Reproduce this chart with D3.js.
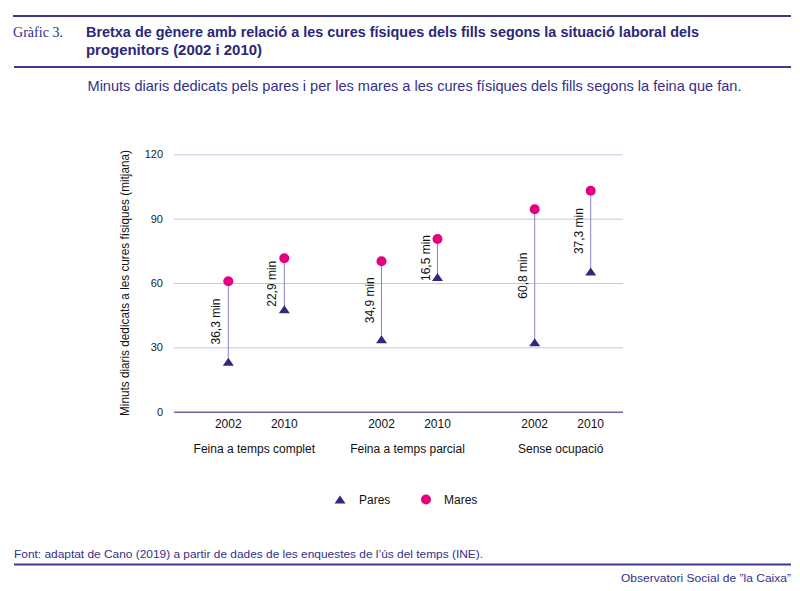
<!DOCTYPE html>
<html><head><meta charset="utf-8">
<script src="https://cdn.jsdelivr.net/npm/d3@7"></script>
<style>body{margin:0;background:#fff}svg{display:block}</style>
</head><body>
<svg id="c" width="800" height="591"></svg>
<script>
const categories = ["Feina a temps complet", "Feina a temps parcial", "Sense ocupació"];
const years = ["2002", "2010"];
const pares = [23.3, 47.8, 33.8, 62.8, 32.4, 65.4];
const mares = [60.8, 71.5, 70.1, 80.5, 94.4, 103.0];
const gapLabels = ["36,3 min", "22,9 min", "34,9 min", "16,5 min", "60,8 min", "37,3 min"];
const yTicks = [0, 30, 60, 90, 120];
const seriesNames = ["Pares", "Mares"];

const svg = d3.select("#c");
const purple = "#2e2b7c", magenta = "#e5007d", txtPurple = "#353089";
const font = "'Liberation Sans', Arial, sans-serif";

// header
svg.append("line").attr("x1", 13).attr("x2", 791).attr("y1", 16).attr("y2", 16).attr("stroke", "#3d3890").attr("stroke-width", 2);
svg.append("line").attr("x1", 14).attr("x2", 791).attr("y1", 67).attr("y2", 67).attr("stroke", "#3d3890").attr("stroke-width", 2);
svg.append("text").attr("x", 13).attr("y", 37).attr("font-family", "'Liberation Serif','DejaVu Serif',serif").attr("font-size", 15).attr("fill", txtPurple)
  .attr("textLength", 50).attr("lengthAdjust", "spacingAndGlyphs").text("Gràfic 3.");
svg.append("text").attr("x", 86).attr("y", 37.3).attr("font-family", font).attr("font-weight", "bold").attr("font-size", 15).attr("fill", "#2b2878")
  .attr("textLength", 613).attr("lengthAdjust", "spacingAndGlyphs").text("Bretxa de gènere amb relació a les cures físiques dels fills segons la situació laboral dels");
svg.append("text").attr("x", 86).attr("y", 55).attr("font-family", font).attr("font-weight", "bold").attr("font-size", 15).attr("fill", "#2b2878")
  .attr("textLength", 176).attr("lengthAdjust", "spacingAndGlyphs").text("progenitors (2002 i 2010)");
svg.append("text").attr("x", 87.5).attr("y", 90.5).attr("font-family", font).attr("font-size", 15).attr("fill", txtPurple)
  .attr("textLength", 654).attr("lengthAdjust", "spacingAndGlyphs").text("Minuts diaris dedicats pels pares i per les mares a les cures físiques dels fills segons la feina que fan.");

// scales
const plotLeft = 174, plotRight = 623;
const y = d3.scaleLinear().domain([0, 120]).range([411.7, 154.3]);
const xCat = d3.scaleBand().domain(categories).range([179.7, 639.3]).padding(0);
const xYear = d3.scalePoint().domain(years).range([-28, 28]);
const xPos = i => xCat(categories[Math.floor(i / 2)]) + xCat.bandwidth() / 2 + xYear(years[i % 2]);

// y axis with gridlines
const yAxis = d3.axisLeft(y).tickValues(yTicks).tickSize(-(plotRight - plotLeft)).tickPadding(11);
const gy = svg.append("g").attr("transform", `translate(${plotLeft},0)`).call(yAxis);
gy.select(".domain").remove();
gy.selectAll(".tick line").attr("stroke", d => d === 0 ? "#6f66b0" : "#c9c5e1").attr("stroke-width", d => d === 0 ? 1.5 : 1);
gy.selectAll(".tick text").attr("font-family", font).attr("font-size", 11).attr("fill", "#222");

svg.append("text").attr("transform", `translate(129,283) rotate(-90)`).attr("text-anchor", "middle")
  .attr("font-family", font).attr("font-size", 12).attr("fill", "#111")
  .attr("textLength", 266).attr("lengthAdjust", "spacingAndGlyphs")
  .text("Minuts diaris dedicats a les cures físiques (mitjana)");

// x labels
const idx = d3.range(pares.length);
svg.selectAll(".yr").data(idx).join("text").attr("x", i => xPos(i)).attr("y", 427.7).attr("text-anchor", "middle")
  .attr("font-family", font).attr("font-size", 12).attr("fill", "#111").text(i => years[i % 2]);
svg.selectAll(".cat").data(categories).join("text").attr("x", d => xCat(d) + xCat.bandwidth() / 2 - 2).attr("y", 452.7)
  .attr("text-anchor", "middle").attr("font-family", font).attr("font-size", 12).attr("fill", "#111").text(d => d);

// stems
svg.selectAll(".stem").data(idx).join("line").attr("x1", i => xPos(i)).attr("x2", i => xPos(i))
  .attr("y1", i => y(mares[i])).attr("y2", i => y(pares[i])).attr("stroke", "#8b84c2").attr("stroke-width", 1);

const tri = "M0,-4L5.5,4L-5.5,4Z";
svg.selectAll(".pare").data(idx).join("path").attr("d", tri)
  .attr("transform", i => `translate(${xPos(i)},${y(pares[i])})`).attr("fill", purple);
svg.selectAll(".mare").data(idx).join("circle").attr("cx", i => xPos(i)).attr("cy", i => y(mares[i])).attr("r", 5).attr("fill", magenta);

// gap labels
svg.selectAll(".gap").data(idx).join("text")
  .attr("transform", i => `translate(${xPos(i) - 8},${(y(mares[i]) + y(pares[i])) / 2}) rotate(-90)`)
  .attr("text-anchor", "middle").attr("font-family", font).attr("font-size", 12).attr("fill", "#111").text(i => gapLabels[i]);

// legend
svg.append("path").attr("d", tri).attr("transform", "translate(340,499.5)").attr("fill", purple);
svg.append("text").attr("x", 359).attr("y", 503.5).attr("font-family", font).attr("font-size", 12).attr("fill", "#111").text(seriesNames[0]);
svg.append("circle").attr("cx", 426).attr("cy", 499.5).attr("r", 5).attr("fill", magenta);
svg.append("text").attr("x", 444).attr("y", 503.5).attr("font-family", font).attr("font-size", 12).attr("fill", "#111").text(seriesNames[1]);

// footer
svg.append("text").attr("x", 14).attr("y", 558).attr("font-family", font).attr("font-size", 11.5).attr("fill", txtPurple)
  .attr("textLength", 469).attr("lengthAdjust", "spacingAndGlyphs").text("Font: adaptat de Cano (2019) a partir de dades de les enquestes de l’ús del temps (INE).");
svg.append("line").attr("x1", 14).attr("x2", 791).attr("y1", 564.5).attr("y2", 564.5).attr("stroke", "#3d3890").attr("stroke-width", 2);
svg.append("text").attr("x", 791).attr("y", 582).attr("text-anchor", "end").attr("font-family", font).attr("font-size", 11.5).attr("fill", txtPurple)
  .attr("textLength", 170).attr("lengthAdjust", "spacingAndGlyphs").text("Observatori Social de \u201Dla Caixa\u201D");
</script>
</body></html>
